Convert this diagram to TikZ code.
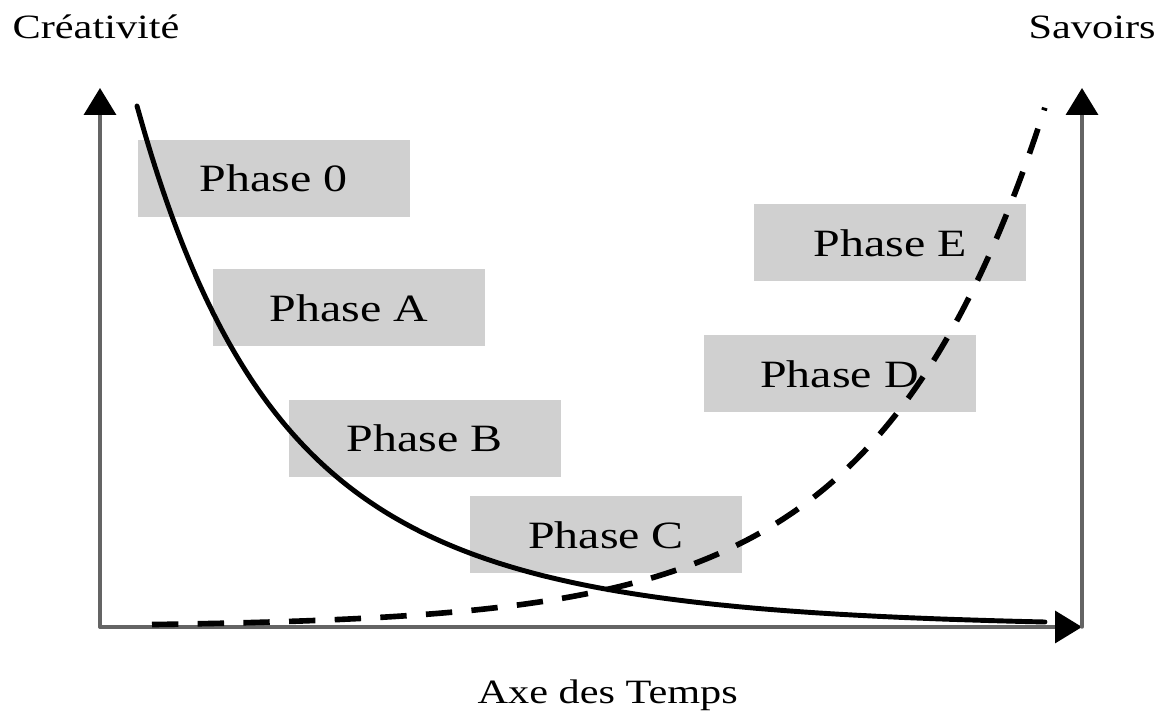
\documentclass[tikz,border=0pt]{standalone}
\usepackage{fontspec}
\setmainfont[FakeStretch=1.24]{Liberation Serif}
\usetikzlibrary{arrows.meta}
\definecolor{boxgray}{RGB}{208,208,208}
\definecolor{axegray}{RGB}{100,100,100}
\begin{document}
\begin{tikzpicture}[line join=round,line cap=round,
	axe/.style={axegray,line width=1pt,-{Triangle[length=2.7mm,width=3.2mm,color=black]}},
	phase/.style={fill=boxgray,minimum width=2.72cm,minimum height=0.77cm,inner sep=0pt,font=\fontsize{11}{13}\selectfont},
	titre/.style={anchor=base west,inner sep=0pt,font=\fontsize{9.7}{12}\selectfont}]
	\useasboundingbox (0,0) rectangle (11.58,7.11);
	\coordinate (O) at (1,0.84); \coordinate (Ytop) at (1,6.23); \coordinate (X) at (10.82,0.84); \coordinate (Stop) at (10.82,6.23);
	\draw[axe] (O)--(Ytop); \draw[axe] (O)--(X); \draw[axe] (X)--(Stop);
	\node[titre] (crea) at (0.12,6.72) {Créativité};
	\node[titre] (savoirs) at (10.28,6.72) {Savoirs};
	\node[titre] (temps) at (4.77,0.07) {Axe des Temps};
	\foreach \n/\x/\y in {0/2.735/5.325,A/3.49/4.03,B/4.245/2.725,C/6.06/1.76,D/8.395/3.37,E/8.90/4.68}{\node[phase] (phase\n) at (\x,\y) {Phase \n};}
	% creativite
	\draw[line width=1.4pt] plot[domain=1.37:10.45,samples=120,smooth] (\x,{0.84+2.24*exp(-1.02*(\x-1.37))+2.97*exp(-0.45*(\x-1.37))});
	% savoirs
	\draw[line width=1.6pt,line cap=butt,dash pattern=on 7.5pt off 5.5pt] plot[domain=1.52:10.45,samples=120,smooth] (\x,{0.84+0.36*exp(0.6*(\x-6))});
\end{tikzpicture}
\end{document}
